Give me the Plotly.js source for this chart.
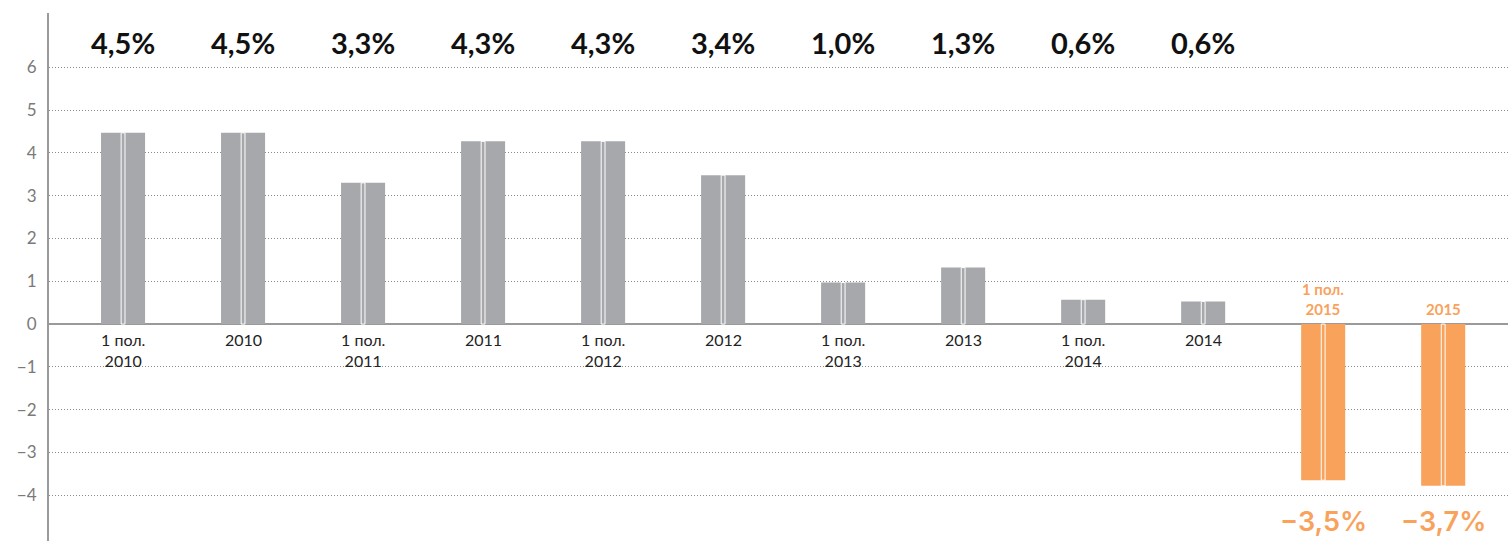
<!DOCTYPE html>
<html><head><meta charset="utf-8">
<script src="https://cdn.plot.ly/plotly-3.0.1.min.js"></script>
<style>html,body{margin:0;padding:0;background:#fff}#chart{width:1508px;height:541px}</style>
</head><body><div id="chart"></div>
<script>
const categories = ["1 пол.<br>2010","2010","1 пол.<br>2011","2011","1 пол.<br>2012","2012","1 пол.<br>2013","2013","1 пол.<br>2014","2014","1 пол.<br>2015","2015"];
const values = [4.47,4.47,3.30,4.27,4.27,3.48,0.97,1.32,0.57,0.53,-3.65,-3.78];
const pctLabels = ["4,5%","4,5%","3,3%","4,3%","4,3%","3,4%","1,0%","1,3%","0,6%","0,6%","\u22123,5%","\u22123,7%"];
const yTicks = [-4,-3,-2,-1,0,1,2,3,4,5,6];

const GRAY = "#a7a8ab", ORANGE = "#f8a25c";
const FONT = "Lato, 'Open Sans', sans-serif";
const idx = categories.map((_, i) => i);
const colors = values.map(v => v < 0 ? ORANGE : GRAY);

const traces = [
  {type:"bar", x: idx, y: values, width: 0.367, marker:{color: colors}, hoverinfo:"skip"},
  {type:"bar", x: idx, y: values, width: 0.032, marker:{color: colors, line:{color:"#ffffff", width:1}}, hoverinfo:"skip"}
];

const annotations = [];
idx.forEach(i => {
  const neg = values[i] < 0;
  annotations.push({
    x: i, y: 0, xref:"x", yref:"y", text: neg ? "<b>"+categories[i]+"</b>" : categories[i],
    showarrow:false, yanchor: neg ? "bottom" : "top", yshift: neg ? 4 : -4,
    font:{family: FONT, size: neg ? 15 : 16, color: neg ? ORANGE : "#222"},
    align:"center"
  });
  annotations.push({
    x: i, y: neg ? -4.61 : 6.58, xref:"x", yref:"y", text: pctLabels[i],
    showarrow:false, yanchor:"middle",
    font:{family: neg ? "Inter, Lato, sans-serif" : FONT, size: neg ? 27 : 29, weight: neg ? 600 : 700, color: neg ? ORANGE : "#111"}
  });
});

const layout = {
  width:1508, height:541,
  margin:{l:49, r:0, t:13, b:0},
  paper_bgcolor:"#fff", plot_bgcolor:"#fff",
  barmode:"overlay", showlegend:false,
  font:{family: FONT},
  xaxis:{range:[-0.617, 11.54], showticklabels:false, showgrid:false, zeroline:false, showline:false, ticks:""},
  yaxis:{range:[-5.07, 7.27], tickvals: yTicks, showgrid:true, gridcolor:"#8a8a8a", gridwidth:1, griddash:"1px,2px",
         zeroline:true, zerolinecolor:"#9a9a9a", zerolinewidth:2,
         showline:true, linecolor:"#9a9a9a", linewidth:2, ticks:"", ticklabelstandoff:7,
         tickfont:{size:17, color:"#7a7a7a", family: FONT}},
  annotations: annotations
};
Plotly.newPlot("chart", traces, layout, {displayModeBar:false, staticPlot:true});
</script></body></html>
